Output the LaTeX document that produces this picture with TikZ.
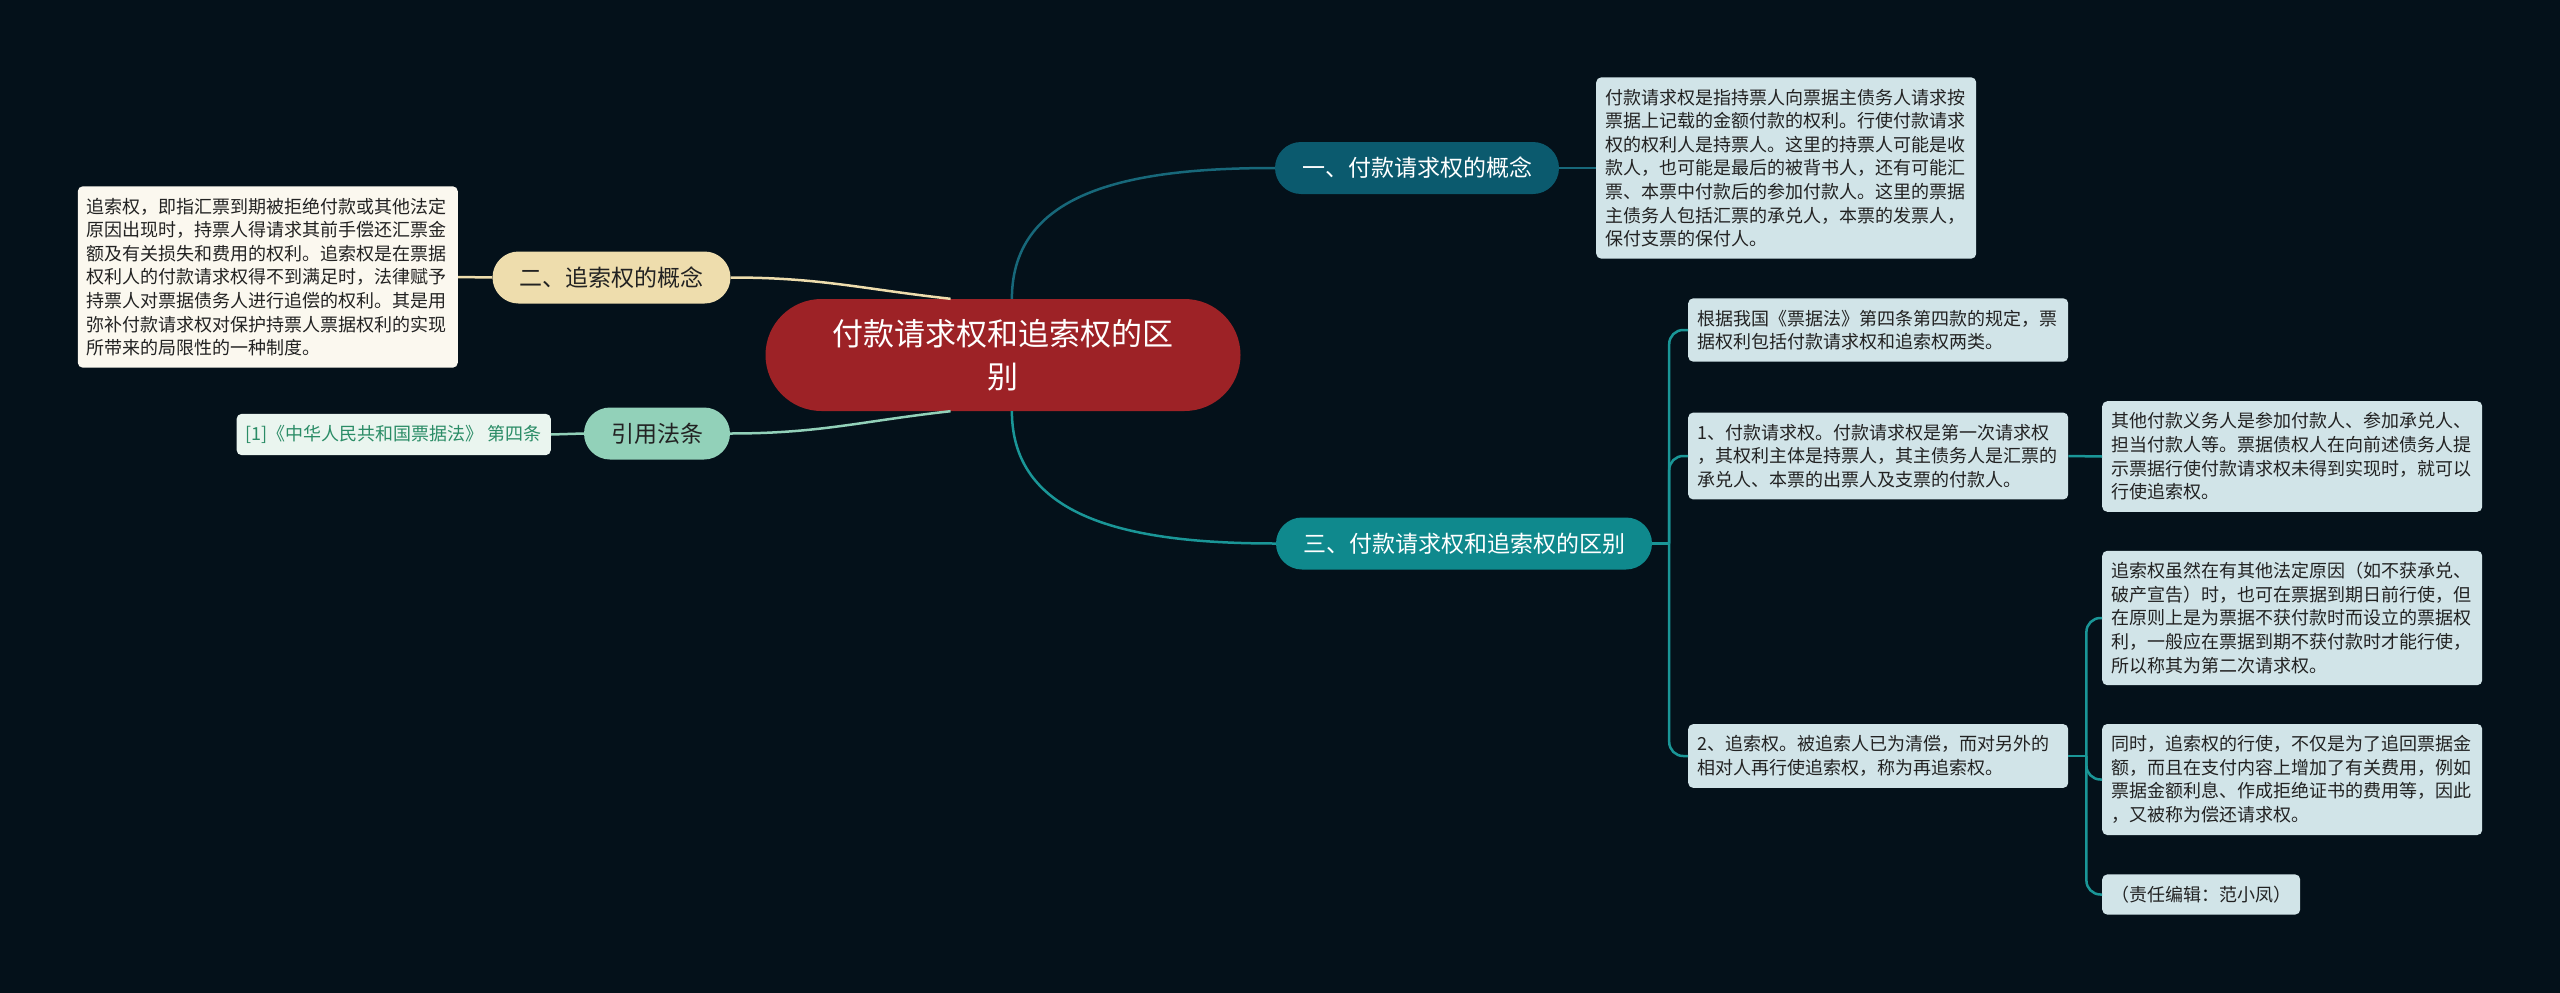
\documentclass[tikz,border=0pt]{standalone}
\usepackage{fontspec}
\usepackage{xcolor}
\usepackage{tikz}
\newfontfamily\cjk{Noto Sans CJK SC}
\definecolor{bgcol}{HTML}{04111A}
\definecolor{rootred}{HTML}{9D2226}
\definecolor{deepteal}{HTML}{0B5A6E}
\definecolor{deepline}{HTML}{17687A}
\definecolor{midteal}{HTML}{0F898D}
\definecolor{midline}{HTML}{1A9697}
\definecolor{paleteal}{HTML}{D1E4E8}
\definecolor{sand}{HTML}{EEDDAD}
\definecolor{cream}{HTML}{FBF8EF}
\definecolor{mint}{HTML}{92D1B9}
\definecolor{palemint}{HTML}{EAF5EF}
\definecolor{mintdark}{HTML}{2A8C66}
\definecolor{inktext}{HTML}{222222}
\tikzset{
  basenode/.style = {font=\cjk, inner sep=0pt},
  rootnode/.style = {basenode, fill=rootred, text=white, rounded corners=56pt,
    minimum width=475pt, minimum height=112pt, align=center,
    font=\cjk\fontsize{31}{43}\selectfont},
  topicnode/.style = {basenode, rounded corners=26pt, inner xsep=27pt,
    minimum height=52pt, font=\cjk\fontsize{23}{28}\selectfont},
  leafbox/.style = {basenode, rounded corners=5pt, inner xsep=9pt,
    inner ysep=11.5pt, align=left, text=inktext,
    font=\cjk\fontsize{18}{23.6}\selectfont},
  longleaf/.style = {leafbox, text width=362pt},
  link/.style = {line width=2.5pt}
}

\begin{document}
\begin{tikzpicture}[x=1pt,y=-1pt]
  \fill[bgcol] (0,0) rectangle (2560,993);

  \node[rootnode] (root) at (1003,355) {付款请求权和追索权的区\\别};

  \node[topicnode, fill=deepteal, text=white] (b1) at (1417,168) {一、付款请求权的概念};
  \node[topicnode, fill=midteal, text=white] (b3) at (1464,543.5) {三、付款请求权和追索权的区别};
  \node[topicnode, fill=sand, text=inktext] (b2) at (611.5,277.5) {二、追索权的概念};
  \node[topicnode, fill=mint, text=inktext] (b4) at (657,433.5) {引用法条};

  \node[longleaf, fill=paleteal, anchor=west] (l1) at (1596,168) {付款请求权是指持票人向票据主债务人请求按\\
票据上记载的金额付款的权利。行使付款请求\\
权的权利人是持票人。这里的持票人可能是收\\
款人，也可能是最后的被背书人，还有可能汇\\
票、本票中付款后的参加付款人。这里的票据\\
主债务人包括汇票的承兑人，本票的发票人，\\
保付支票的保付人。};

  \node[longleaf, fill=cream, anchor=east] (l2) at (458,277) {追索权，即指汇票到期被拒绝付款或其他法定\\
原因出现时，持票人得请求其前手偿还汇票金\\
额及有关损失和费用的权利。追索权是在票据\\
权利人的付款请求权得不到满足时，法律赋予\\
持票人对票据债务人进行追偿的权利。其是用\\
弥补付款请求权对保护持票人票据权利的实现\\
所带来的局限性的一种制度。};

  \node[leafbox, fill=palemint, text=mintdark, anchor=east] (l4) at (551,434.5) {[1]《中华人民共和国票据法》 第四条};

  \node[longleaf, fill=paleteal, anchor=west] (la) at (1688,330) {根据我国《票据法》第四条第四款的规定，票\\
据权利包括付款请求权和追索权两类。};
  \node[longleaf, fill=paleteal, anchor=west] (lb) at (1688,456) {1、付款请求权。付款请求权是第一次请求权\\
，其权利主体是持票人，其主债务人是汇票的\\
承兑人、本票的出票人及支票的付款人。};
  \node[longleaf, fill=paleteal, anchor=west] (lc) at (1688,756) {2、追索权。被追索人已为清偿，而对另外的\\
相对人再行使追索权，称为再追索权。};

  \node[longleaf, fill=paleteal, anchor=west] (lb1) at (2102,456.5) {其他付款义务人是参加付款人、参加承兑人、\\
担当付款人等。票据债权人在向前述债务人提\\
示票据行使付款请求权未得到实现时，就可以\\
行使追索权。};
  \node[longleaf, fill=paleteal, anchor=west] (lc1) at (2102,618) {追索权虽然在有其他法定原因（如不获承兑、\\
破产宣告）时，也可在票据到期日前行使，但\\
在原则上是为票据不获付款时而设立的票据权\\
利，一般应在票据到期不获付款时才能行使，\\
所以称其为第二次请求权。};
  \node[longleaf, fill=paleteal, anchor=west] (lc2) at (2102,779.5) {同时，追索权的行使，不仅是为了追回票据金\\
额，而且在支付内容上增加了有关费用，例如\\
票据金额利息、作成拒绝证书的费用等，因此\\
，又被称为偿还请求权。};
  \node[leafbox, fill=paleteal, anchor=west] (lc3) at (2102,894.5) {（责任编辑：范小凤）};

  % main branches
  \draw[link, deepline] (root.81) .. controls +(0,-110) and +(-140,0) .. (b1.west);
  \draw[link, midline] (root.279) .. controls +(0,110) and +(-140,0) .. (b3.west);
  \draw[link, sand] (root.133) .. controls +(-90,-10) and +(90,0) .. (b2.east);
  \draw[link, mint] (root.227) .. controls +(-90,10) and +(90,0) .. (b4.east);

  % leaves
  \draw[link, deepline] (b1.east) -- (l1.west);
  \draw[link, sand] (b2.west) -- (l2.east);
  \draw[link, mint] (b4.west) -- (l4.east);
  \path (b3.east) ++(17,0) coordinate (b3j);
  \draw[link, midline] (b3.east) -- (b3j);
  \foreach \t in {la,lb,lc}
    \draw[link, midline, rounded corners=14pt] (b3j) |- (\t.west);
  \draw[link, midline] (lb.east) -- (lb1.west);
  \path (lc.east) ++(18,0) coordinate (lcj);
  \draw[link, midline] (lc.east) -- (lcj);
  \foreach \t in {lc1,lc2,lc3}
    \draw[link, midline, rounded corners=14pt] (lcj) |- (\t.west);
\end{tikzpicture}
\end{document}
